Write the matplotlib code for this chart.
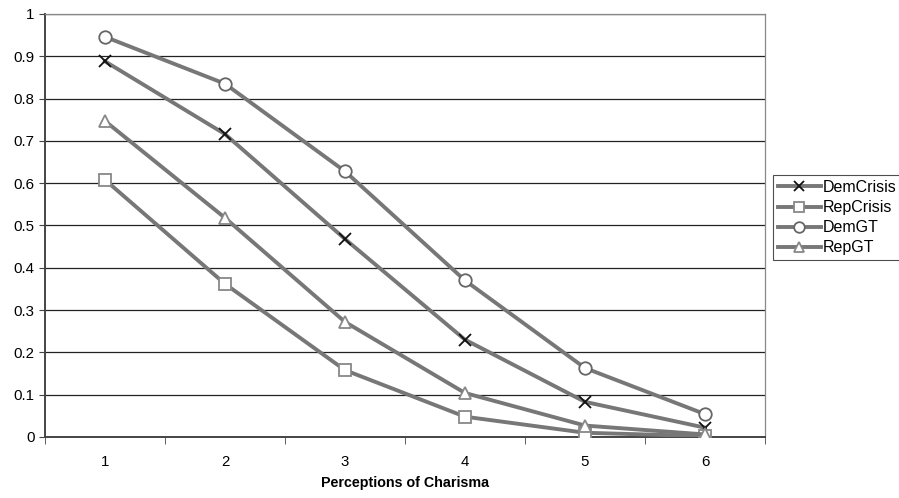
import matplotlib

matplotlib.use("Agg")
import matplotlib.pyplot as plt

plt.rcParams["font.family"] = ["Liberation Sans", "DejaVu Sans"]

CATEGORIES = [1, 2, 3, 4, 5, 6]
DEM_CRISIS = [0.888, 0.716, 0.468, 0.230, 0.083, 0.022]
REP_CRISIS = [0.608, 0.362, 0.158, 0.048, 0.010, 0.002]
DEM_GT = [0.946, 0.835, 0.628, 0.370, 0.163, 0.054]
REP_GT = [0.747, 0.518, 0.272, 0.104, 0.027, 0.006]

LINE = "#777777"

fig = plt.figure(figsize=(8.99, 4.98), dpi=100)
ax = fig.add_axes([0.05, 0.1225, 0.801, 0.8495])

ax.plot(CATEGORIES, DEM_CRISIS, color=LINE, lw=2.8, marker="x", ms=9,
        mec="#111111", mew=1.3, label="DemCrisis", zorder=3)
ax.plot(CATEGORIES, REP_CRISIS, color=LINE, lw=2.8, marker="s", ms=9,
        mec="#888888", mfc="white", mew=1.3, label="RepCrisis", zorder=3)
ax.plot(CATEGORIES, DEM_GT, color=LINE, lw=2.8, marker="o", ms=9,
        mec="#666666", mfc="white", mew=1.3, label="DemGT", zorder=3)
ax.plot(CATEGORIES, REP_GT, color=LINE, lw=2.8, marker="^", ms=9,
        mec="#888888", mfc="white", mew=1.3, label="RepGT", zorder=3)

ax.set_xlim(0.5, 6.5)
ax.set_ylim(0, 1)
ax.set_xticks(CATEGORIES)
ax.set_xticks([0.5 + i for i in range(7)], minor=True)
ax.tick_params(axis="x", which="major", length=0, labelsize=10.8, pad=13)
ax.tick_params(axis="x", which="minor", length=5, direction="out", color="#444444")
ax.set_yticks([i / 10 for i in range(11)])
ax.set_yticklabels(["0"] + [f"{i / 10:.1f}" for i in range(1, 10)] + ["1"])
ax.tick_params(axis="y", length=4, direction="out", labelsize=10.8, color="#444444")
ax.grid(axis="y", color="#222222", lw=0.9)
ax.set_axisbelow(True)

for side in ["top", "right"]:
    ax.spines[side].set_color("#888888")
    ax.spines[side].set_linewidth(0.9)
ax.spines["left"].set_color("#444444")
ax.spines["bottom"].set_color("#444444")
ax.spines["left"].set_linewidth(1.4)
ax.spines["bottom"].set_linewidth(1.4)

ax.set_xlabel("Perceptions of Charisma", fontweight="bold", fontsize=10.3, labelpad=5)

leg = ax.legend(loc="upper left", bbox_to_anchor=(0.86, 0.648), bbox_transform=fig.transFigure,
                frameon=True, fancybox=False, fontsize=11.5, handlelength=2.7,
                handletextpad=0.1, borderpad=0.3, borderaxespad=0, labelspacing=0.32,
                markerscale=0.85)
leg.get_frame().set_edgecolor("#222222")
leg.get_frame().set_linewidth(0.8)

fig.savefig("out.png", dpi=100)
